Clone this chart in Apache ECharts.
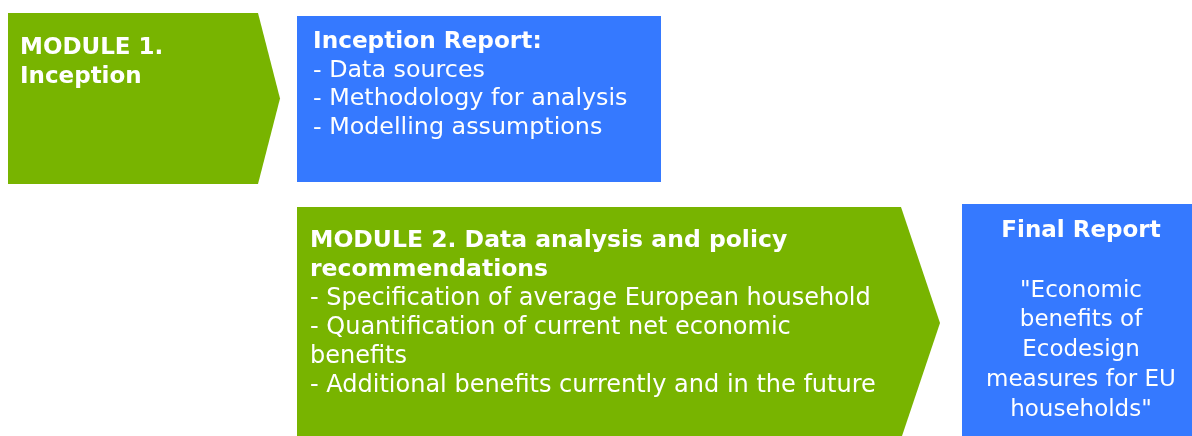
<!DOCTYPE html>
<html>
<head>
<meta charset="utf-8">
<script src="https://cdn.jsdelivr.net/npm/echarts@6/dist/echarts.min.js"></script>
<style>
html,body{margin:0;padding:0;background:#fff;}
#chart{width:1192px;height:436px;}
</style>
</head>
<body>
<div id="chart"></div>
<script>
// Diagram content
const boxNames = ['Module 1', 'Inception Report', 'Module 2', 'Final Report'];
const boxKinds = ['module', 'report', 'module', 'report'];
// box extents in diagram units (x: 0..1192, y: 0..436 downwards)
const boxLeft   = [8, 297, 297, 962];
const boxRight  = [258, 661, 901, 1200];
const boxTop    = [13, 16, 207, 204];
const boxBottom = [184, 182, 439, 450];
const arrowTipX = [280, null, 940, null];
const titleLines = [
  ['MODULE 1.', 'Inception'],
  ['Inception Report:'],
  ['MODULE 2. Data analysis and policy', 'recommendations'],
  ['Final Report']
];
const bodyLines = [
  [],
  ['- Data sources', '- Methodology for analysis', '- Modelling assumptions'],
  ['- Specification of average European household', '- Quantification of current net economic', 'benefits', '- Additional benefits currently and in the future'],
  ['', '"Economic', 'benefits of', 'Ecodesign', 'measures for EU', 'households"']
];

const GREEN = '#78b400';
const BLUE = '#3579ff';
const FONT = '"DejaVu Sans", Verdana, sans-serif';

const chart = echarts.init(document.getElementById('chart'), null, {renderer: 'canvas'});

function renderItem(params, api) {
  const i = params.dataIndex;
  const x0 = api.value(0), y0 = api.value(1), x1 = api.value(2), y1 = api.value(3);
  const tip = arrowTipX[i];
  const p00 = api.coord([x0, y0]);
  const p10 = api.coord([x1, y0]);
  const p11 = api.coord([x1, y1]);
  const p01 = api.coord([x0, y1]);
  const children = [];
  if (tip != null) {
    const pt = api.coord([tip, (y0 + y1) / 2]);
    children.push({type: 'polygon', shape: {points: [p00, p10, pt, p11, p01]}, style: {fill: GREEN}});
  } else {
    children.push({type: 'polygon', shape: {points: [p00, p10, p11, p01]}, style: {fill: BLUE}});
  }

  const fsB = [23, 23.2, 23.5, 23][i];
  const fsN = [23, 23.8, 24, 23][i];
  const lh = [29, 28.7, 29, 29.7][i];
  const parts = [];
  titleLines[i].forEach(t => parts.push('{b|' + t + '}'));
  bodyLines[i].forEach(t => parts.push(t === '' ? '{n| }' : '{n|' + t + '}'));
  const centered = (i === 3);
  const padX = [12, 16, 13, 119][i];
  const padY = [20.5, 11.5, 19.5, 12.5][i];
  const al = centered ? 'center' : 'left';
  children.push({
    type: 'text',
    x: p00[0] + padX,
    y: p00[1] + padY,
    style: {
      text: parts.join('\n'),
      align: al,
      verticalAlign: 'top',
      fill: '#ffffff',
      rich: {
        b: {fontFamily: FONT, fontWeight: 'bold', fontSize: fsB, lineHeight: lh, fill: '#ffffff', align: al},
        n: {fontFamily: FONT, fontWeight: 'normal', fontSize: fsN, lineHeight: lh, fill: '#ffffff', align: al}
      }
    }
  });
  return {type: 'group', children: children};
}

chart.setOption({
  animation: false,
  backgroundColor: '#ffffff',
  grid: {left: 0, right: 0, top: 0, bottom: 0, containLabel: false},
  xAxis: {type: 'value', min: 0, max: 1192, show: false},
  yAxis: {type: 'value', min: 0, max: 436, inverse: true, show: false},
  series: [{
    type: 'custom',
    name: 'Workflow',
    clip: false,
    renderItem: renderItem,
    data: boxNames.map((n, i) => ({name: n, value: [boxLeft[i], boxTop[i], boxRight[i], boxBottom[i]]}))
  }]
});
</script>
</body>
</html>
